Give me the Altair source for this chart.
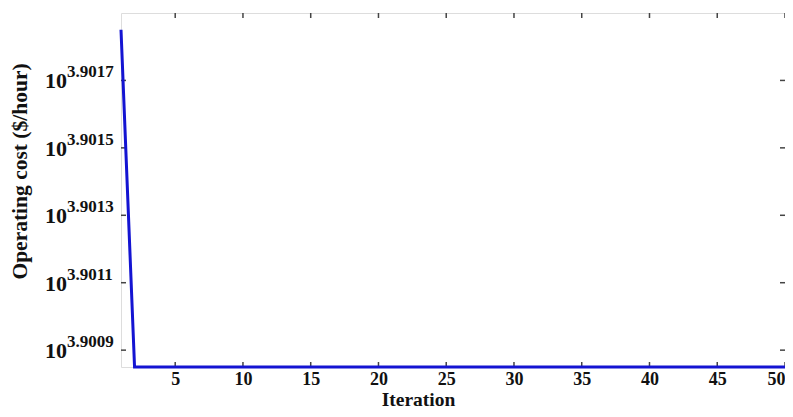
import altair as alt
import pandas as pd

# Data
iterations = list(range(1, 51))
cost = [7977.2, 7958.84, 7958.84, 7958.84, 7958.84, 7958.84, 7958.84, 7958.84, 7958.84, 7958.84,
        7958.84, 7958.84, 7958.84, 7958.84, 7958.84, 7958.84, 7958.84, 7958.84, 7958.84, 7958.84,
        7958.84, 7958.84, 7958.84, 7958.84, 7958.84, 7958.84, 7958.84, 7958.84, 7958.84, 7958.84,
        7958.84, 7958.84, 7958.84, 7958.84, 7958.84, 7958.84, 7958.84, 7958.84, 7958.84, 7958.84,
        7958.84, 7958.84, 7958.84, 7958.84, 7958.84, 7958.84, 7958.84, 7958.84, 7958.84, 7958.84]
x_ticks = [5, 10, 15, 20, 25, 30, 35, 40, 45, 50]
y_exponents = ["3.9009", "3.9011", "3.9013", "3.9015", "3.9017"]

W, H = 664, 354
SERIF = "Liberation Serif"
FRAME = "#7f7f7f"

df = pd.DataFrame({"iteration": iterations, "cost": cost})
ydf = pd.DataFrame({"exp": y_exponents, "val": [10 ** float(e) for e in y_exponents]})
xdf = pd.DataFrame({"t": x_ticks})

xscale = alt.Scale(domain=[1, 50], nice=False, zero=False)
yscale = alt.Scale(type="log", domain=[10 ** 3.90085, 10 ** 3.9019], nice=False, zero=False)

line = alt.Chart(df).mark_line(color="#1414d2", strokeWidth=3, clip=False).encode(
    x=alt.X("iteration:Q", scale=xscale,
            axis=alt.Axis(values=x_ticks, title="Iteration", ticks=False, domain=False, grid=False,
                          labelFont=SERIF, labelFontWeight="bold", labelFontSize=18, labelColor="#111",
                          labelPadding=3, labelFlush=True,
                          titleFont=SERIF, titleFontWeight="bold", titleFontSize=19.5,
                          titleColor="#111", titleX=297, titleY=38, titleBaseline="alphabetic")),
    y=alt.Y("cost:Q", scale=yscale,
            axis=alt.Axis(labels=False, ticks=False, domain=False, grid=False,
                          title="Operating cost ($/hour)", titleFont=SERIF, titleFontWeight="bold",
                          titleFontSize=21.5, titleColor="#111", titleX=-101, titleY=158,
                          titleAngle=-90, titleBaseline="middle", titleAlign="center")),
)

ten = alt.Chart(ydf).mark_text(font=SERIF, fontWeight="bold", fontSize=22, align="right",
                               baseline="middle", color="#111", dy=1).encode(
    x=alt.value(-54), y=alt.Y("val:Q", scale=yscale), text=alt.value("10"))
expo = alt.Chart(ydf).mark_text(font=SERIF, fontWeight="bold", fontSize=17, align="left",
                                baseline="middle", color="#111", dy=-8).encode(
    x=alt.value(-54), y=alt.Y("val:Q", scale=yscale), text="exp:N")

tick_style = dict(color="#444", strokeWidth=1.5)
bt = alt.Chart(xdf).mark_rule(**tick_style).encode(x=alt.X("t:Q", scale=xscale), y=alt.value(H), y2=alt.value(H - 5))
tt = alt.Chart(xdf).mark_rule(**tick_style).encode(x=alt.X("t:Q", scale=xscale), y=alt.value(0), y2=alt.value(5))
lt = alt.Chart(ydf).mark_rule(**tick_style).encode(y=alt.Y("val:Q", scale=yscale), x=alt.value(0), x2=alt.value(5))
rt = alt.Chart(ydf).mark_rule(**tick_style).encode(y=alt.Y("val:Q", scale=yscale), x=alt.value(W), x2=alt.value(W - 5))

chart = alt.layer(bt, tt, lt, rt, line, ten, expo).properties(
    width=W, height=H,
    autosize=alt.AutoSizeParams(type="none"),
    padding={"left": 113, "top": 5, "right": 0, "bottom": 42},
).configure_view(stroke=FRAME, strokeWidth=2).configure(background="white")

chart.save("out.html", embed_options={"renderer": "svg", "actions": False})
